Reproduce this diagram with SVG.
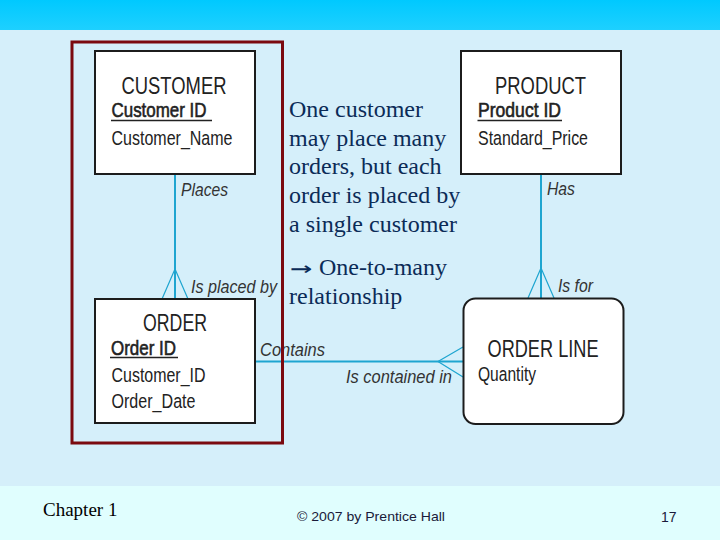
<svg xmlns="http://www.w3.org/2000/svg" width="720" height="540" viewBox="0 0 720 540">
<defs>
<linearGradient id="topband" x1="0" y1="0" x2="0" y2="1">
<stop offset="0" stop-color="#00C9FF"/>
<stop offset="1" stop-color="#1ED0FF"/>
</linearGradient>
<style>
.box{fill:#ffffff;stroke:#1c1c1c;stroke-width:2}
.title{font-family:"Liberation Sans",Arial,sans-serif;font-size:23.5px;fill:#222}
.attr{font-family:"Liberation Sans",Arial,sans-serif;font-size:20.5px;fill:#222}
.key{stroke:#222;stroke-width:0.6}
.ul{stroke:#222;stroke-width:1.5}
.conn{stroke:#1EA5D0;stroke-width:2;fill:none}
.foot{stroke:#1EA5D0;stroke-width:1.2;fill:none}
.rel{font-family:"Liberation Sans",Arial,sans-serif;font-size:19px;font-style:italic;fill:#333}
.note{font-family:"Liberation Serif","Times New Roman",serif;font-size:24px;fill:#0B2B57}
.arrow{font-family:"DejaVu Sans Mono","DejaVu Sans",sans-serif;font-size:24px;fill:#0B2B57}
</style>
</defs>
<rect x="0" y="0" width="720" height="30" fill="url(#topband)"/>
<rect x="0" y="30" width="720" height="456" fill="#D5EFFA"/>
<rect x="0" y="486" width="720" height="54" fill="#E0FEFE"/>

<g id="connectors">
<line class="conn" x1="175" y1="174" x2="175" y2="299"/>
<polyline class="foot" points="162,299 175,269 188,299"/>
<line class="conn" x1="541" y1="174" x2="541" y2="298"/>
<polyline class="foot" points="528,298 541,268 554,298"/>
<line class="conn" x1="255" y1="361.5" x2="463" y2="361.5"/>
<polyline class="foot" points="463,347 438,361.5 463,377"/>
<text class="rel" x="181" y="196" textLength="47" lengthAdjust="spacingAndGlyphs">Places</text>
<text class="rel" x="191" y="293" textLength="86" lengthAdjust="spacingAndGlyphs">Is placed by</text>
<text class="rel" x="547" y="195" textLength="28" lengthAdjust="spacingAndGlyphs">Has</text>
<text class="rel" x="558" y="292" textLength="35" lengthAdjust="spacingAndGlyphs">Is for</text>
<text class="rel" x="260" y="356" textLength="65" lengthAdjust="spacingAndGlyphs">Contains</text>
<text class="rel" x="346" y="383" textLength="106" lengthAdjust="spacingAndGlyphs">Is contained in</text>
</g>

<g id="customer">
<rect class="box" x="95" y="51" width="160" height="123"/>
<text class="title" x="121.5" y="94" textLength="105" lengthAdjust="spacingAndGlyphs">CUSTOMER</text>
<text class="attr key" x="111.5" y="117" textLength="95" lengthAdjust="spacingAndGlyphs">Customer ID</text>
<line class="ul" x1="111" y1="120.5" x2="212" y2="120.5"/>
<text class="attr" x="111.5" y="144.5" textLength="121" lengthAdjust="spacingAndGlyphs">Customer_Name</text>
</g>

<g id="product">
<rect class="box" x="461" y="51" width="160" height="123"/>
<text class="title" x="495" y="94" textLength="91" lengthAdjust="spacingAndGlyphs">PRODUCT</text>
<text class="attr key" x="478" y="117" textLength="83" lengthAdjust="spacingAndGlyphs">Product ID</text>
<line class="ul" x1="477.5" y1="120.5" x2="562" y2="120.5"/>
<text class="attr" x="478" y="144.5" textLength="110" lengthAdjust="spacingAndGlyphs">Standard_Price</text>
</g>

<g id="order">
<rect class="box" x="95" y="299" width="160" height="124"/>
<text class="title" x="143" y="331" textLength="64" lengthAdjust="spacingAndGlyphs">ORDER</text>
<text class="attr key" x="111" y="355" textLength="65" lengthAdjust="spacingAndGlyphs">Order ID</text>
<line class="ul" x1="110" y1="357.5" x2="178" y2="357.5"/>
<text class="attr" x="111.5" y="382" textLength="94" lengthAdjust="spacingAndGlyphs">Customer_ID</text>
<text class="attr" x="111.5" y="408" textLength="84" lengthAdjust="spacingAndGlyphs">Order_Date</text>
</g>

<g id="orderline">
<rect class="box" x="463.5" y="298.5" width="160" height="125.5" rx="12" ry="12"/>
<text class="title" x="487.5" y="357" textLength="111" lengthAdjust="spacingAndGlyphs">ORDER LINE</text>
<text class="attr" x="478" y="381" textLength="58" lengthAdjust="spacingAndGlyphs">Quantity</text>
</g>

<g id="highlight">
<rect x="72" y="42" width="210.5" height="401" fill="none" stroke="#7B0A0F" stroke-width="3"/>
</g>

<g id="note">
<text class="note" x="289" y="117">One customer</text>
<text class="note" x="289" y="146">may place many</text>
<text class="note" x="289" y="174">orders, but each</text>
<text class="note" x="289" y="203">order is placed by</text>
<text class="note" x="289" y="232">a single customer</text>
<text class="arrow" x="290" y="276" textLength="22" lengthAdjust="spacingAndGlyphs">→</text>
<text class="note" x="319" y="275">One-to-many</text>
<text class="note" x="289" y="304">relationship</text>
</g>

<g id="footer">
<text x="43" y="516" font-family="'Liberation Serif','Times New Roman',serif" font-size="19" fill="#000">Chapter 1</text>
<text x="297" y="521" font-family="'Liberation Sans',Arial,sans-serif" font-size="13.5" fill="#1a1a3a" textLength="148" lengthAdjust="spacingAndGlyphs">© 2007 by Prentice Hall</text>
<text x="661" y="522" font-family="'Liberation Sans',Arial,sans-serif" font-size="14" fill="#1a1a3a">17</text>
</g>
</svg>
